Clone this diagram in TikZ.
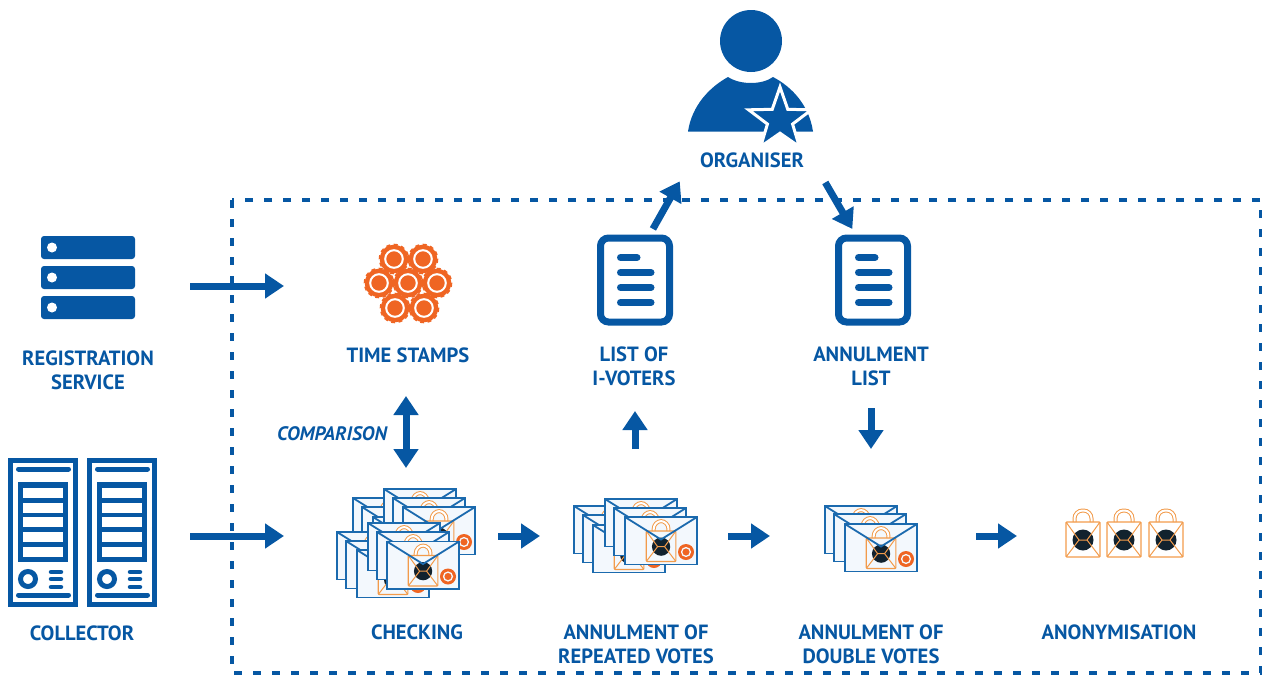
\documentclass[tikz,border=0pt]{standalone}
\usepackage{fontspec}
\setmainfont{PT Sans}
\usetikzlibrary{arrows.meta,shapes.geometric}
\definecolor{MainBlue}{HTML}{0657A3}
\definecolor{MailBlue}{HTML}{1B6AAE}
\definecolor{MailFill}{HTML}{F3F8FD}
\definecolor{StampOrange}{HTML}{EF6523}
\definecolor{LockOrange}{HTML}{F29B4B}
\definecolor{DarkDot}{HTML}{12222E}
\tikzset{
    flowarrow/.style={draw=MainBlue,line width=7pt,-{Triangle[length=19pt,width=24pt]}},
    iconbox/.style={inner sep=0pt,outer sep=0pt},
    lbl/.style={text=MainBlue,font=\fontsize{20.6}{24}\selectfont\bfseries,align=center,inner sep=0pt},
    dashbox/.style={draw=MainBlue,line width=3.5pt,dash pattern=on 8pt off 11pt},
    docline/.style={draw=MainBlue,line width=7pt,line cap=round},
    % lock, origin at top left of its body
    votelock/.pic={
        \fill[DarkDot] (17,18) circle [radius=10.5];
        \draw[LockOrange,line width=1pt,double=white,double distance=2pt,rounded corners=8pt]
            (8.5,0) -- (8.5,-11.5) -- (25.5,-11.5) -- (25.5,0);
        \draw[LockOrange,line width=1.2pt,rounded corners=1pt] (0,0) rectangle (34,35);
        \draw[LockOrange,line width=1pt] (0,0) -- (13,18) -- (0,35) (34,0) -- (21,18) -- (34,35) (13,18) -- (21,18);
    },
    % envelope, origin at top left
    votemail/.pic={
        \filldraw[draw=MailBlue,fill=MailFill,line width=1.8pt] (0,0) rectangle (72,47.5);
        \pic[scale=0.87] at (21.3,14) {votelock};
        \fill[StampOrange] (61,35) circle [radius=8];
        \draw[MailFill,line width=1.3pt] (61,35) circle [radius=4.4];
        \draw[MailBlue,line width=1.8pt] (0,0) -- (36,22.5) -- (72,0);
    },
    % one time stamp
    stampgear/.pic={
        \fill[StampOrange] (0,0) circle [radius=14.2];
        \draw[StampOrange,line width=1.4pt,dash pattern=on 4pt off 3.6pt] (0,0) circle [radius=14.6];
        \draw[white,line width=2pt] (0,0) circle [radius=8.8];
    },
    % document, origin at top left
    docicon/.pic={
        \draw[MainBlue,line width=7pt,rounded corners=8pt] (3.5,3.5) rectangle (72.5,87.5);
        \draw[docline] (23.5,23) -- (40,23);
        \draw[docline] (23.5,38) -- (54,38);
        \draw[docline] (23.5,53) -- (54,53);
        \draw[docline] (23.5,68) -- (54,68);
    },
    % server row, origin at top left
    serverrow/.pic={
        \fill[MainBlue,rounded corners=3pt] (0,0) rectangle (94,23);
        \fill[white] (11,11.5) circle [radius=5];
    },
    % collector tower, origin at top left
    towericon/.pic={
        \draw[MainBlue,line width=4.6pt] (2.3,2.3) rectangle (67.7,146.7);
        \draw[MainBlue,line width=5pt,line cap=round] (10.5,11) -- (60.5,11);
        \draw[MainBlue,line width=5pt,line cap=round] (10.5,137) -- (60.5,137);
        \fill[MainBlue] (10,24) rectangle (60,104);
        \fill[white] (15,30) rectangle (55,40);
        \fill[white] (15,44.5) rectangle (55,54.5);
        \fill[white] (15,59) rectangle (55,69);
        \fill[white] (15,74) rectangle (55,84);
        \fill[white] (15,89) rectangle (55,99);
        \draw[MainBlue,line width=5pt] (20,121) circle [radius=7.5];
        \draw[MainBlue,line width=4.5pt,line cap=round] (43,114) -- (53,114);
        \draw[MainBlue,line width=4.5pt,line cap=round] (43,121) -- (53,121);
        \draw[MainBlue,line width=4.5pt,line cap=round] (43,129) -- (53,129);
    },
}
\begin{document}
\begin{tikzpicture}[x=1pt,y=-1pt]

    \useasboundingbox (0,0) rectangle (1262,675);

    % dashed frame
    \draw[dashbox] (232,200) rectangle (1261,673);

    % organiser
    \fill[MainBlue] (751,41) circle [radius=31];
    \fill[MainBlue] (688,131.5)
        .. controls (692,105) and (710,87) .. (728,77)
        .. controls (740,85) and (762,85) .. (773,77)
        .. controls (792,87) and (809,105) .. (813,131.5) -- cycle;
    \node[star,star points=5,star point ratio=2.5,fill=MainBlue,draw=white,line width=3pt,
        inner sep=0pt,minimum size=66pt] (orgstar) at (780,120) {};
    \node[lbl,minimum width=120pt] (organiser) at (752,160) {ORGANISER};

    % registration service
    \pic at (41,236) {serverrow};
    \pic at (41,266) {serverrow};
    \pic at (41,296) {serverrow};
    \node[iconbox,minimum width=94pt,minimum height=100pt] (regicon) at (88,286) {};
    \node[lbl] (reglabel) at (88,370) {REGISTRATION\\SERVICE};

    % collector
    \pic at (8,458) {towericon};
    \pic at (87,458) {towericon};
    \node[iconbox,minimum width=150pt,minimum height=150pt] (collectoricon) at (82.5,536) {};
    \node[lbl] (collectorlabel) at (82,633) {COLLECTOR};

    % time stamps
    \pic at (394,259) {stampgear};
    \pic at (423,259) {stampgear};
    \pic at (379,283) {stampgear};
    \pic at (408,283) {stampgear};
    \pic at (437,283) {stampgear};
    \pic at (395,308) {stampgear};
    \pic at (424,308) {stampgear};
    \node[iconbox,minimum width=60pt,minimum height=60pt] (stampicon) at (408,286) {};
    \node[lbl] (stamplabel) at (408,355) {TIME STAMPS};

    % lists
    \pic at (597,234.5) {docicon};
    \node[iconbox,minimum width=76pt,minimum height=91pt] (listicon) at (635,280) {};
    \node[lbl] (listlabel) at (634,366.5) {LIST OF\\I-VOTERS};
    \pic at (835,234.5) {docicon};
    \node[iconbox,minimum width=76pt,minimum height=91pt] (annulicon) at (873,280) {};
    \node[lbl] (annullabel) at (871,366.5) {ANNULMENT\\LIST};

    % checking
    \pic at (353,498) {votemail};
    \pic at (362,507) {votemail};
    \pic at (373,517) {votemail};
    \pic at (384,489) {votemail};
    \pic at (393,498) {votemail};
    \pic at (403,507) {votemail};
    \pic at (337,532) {votemail};
    \pic at (346,541) {votemail};
    \pic at (357,550) {votemail};
    \pic at (368,523) {votemail};
    \pic at (377,532) {votemail};
    \pic at (387,541.5) {votemail};
    \node[iconbox,minimum width=140pt,minimum height=100pt] (checkicon) at (406,536) {};
    \node[lbl] (checklabel) at (417,632.5) {CHECKING};

    % repeated votes
    \pic at (574,506) {votemail};
    \pic at (583,515) {votemail};
    \pic at (593,525) {votemail};
    \pic at (605,499) {votemail};
    \pic at (614,508) {votemail};
    \pic at (625,517) {votemail};
    \node[iconbox,minimum width=124pt,minimum height=76pt] (repeaticon) at (635,536) {};
    \node[lbl] (repeatlabel) at (636,644) {ANNULMENT OF\\REPEATED VOTES};

    % double votes
    \pic at (825,506) {votemail};
    \pic at (834,514) {votemail};
    \pic at (845,524) {votemail};
    \node[iconbox,minimum width=94pt,minimum height=76pt] (doubleicon) at (871,536) {};
    \node[lbl] (doublelabel) at (871,644) {ANNULMENT OF\\DOUBLE VOTES};

    % anonymisation
    \pic at (1066,522) {votelock};
    \pic at (1107,522) {votelock};
    \pic at (1149,522) {votelock};
    \node[iconbox,minimum width=118pt,minimum height=50pt] (lockicon) at (1124,536) {};
    \node[lbl] (locklabel) at (1119,632.5) {ANONYMISATION};

    % arrows
    \draw[flowarrow,shorten <=55pt,shorten >=94pt] (regicon) -- (stampicon);
    \draw[flowarrow,shorten <=32.5pt,shorten >=52pt] (collectoricon) -- (checkicon);
    \draw[flowarrow,shorten <=22pt,shorten >=33pt] (checkicon) -- (repeaticon);
    \draw[flowarrow,shorten <=31pt,shorten >=54pt] (repeaticon) -- (doubleicon);
    \draw[flowarrow,shorten <=58pt,shorten >=48pt] (doubleicon) -- (lockicon);
    \draw[flowarrow,shorten <=49pt,shorten >=85.5pt] (repeaticon.north) -- (listicon.south);
    \draw[flowarrow,shorten <=82.5pt,shorten >=49pt] (annulicon.south -| doubleicon.north) -- (doubleicon.north);
    \draw[flowarrow,{Triangle[length=19pt,width=24pt]}-{Triangle[length=19pt,width=24pt]},shorten <=80pt,shorten >=18pt]
        (stampicon.south -| checkicon.north) -- (checkicon.north);
    \draw[flowarrow,shorten <=6.4pt,shorten >=24.5pt] (listicon.72) -- (organiser.west);
    \draw[flowarrow,shorten <=26pt,shorten >=6.4pt] (organiser.east) -- (annulicon.111);

    % comparison label
    \node[lbl,font=\fontsize{19.5}{23}\selectfont\bfseries\itshape] (comparelabel) at (332,433.5) {COMPARISON};

\end{tikzpicture}
\end{document}
